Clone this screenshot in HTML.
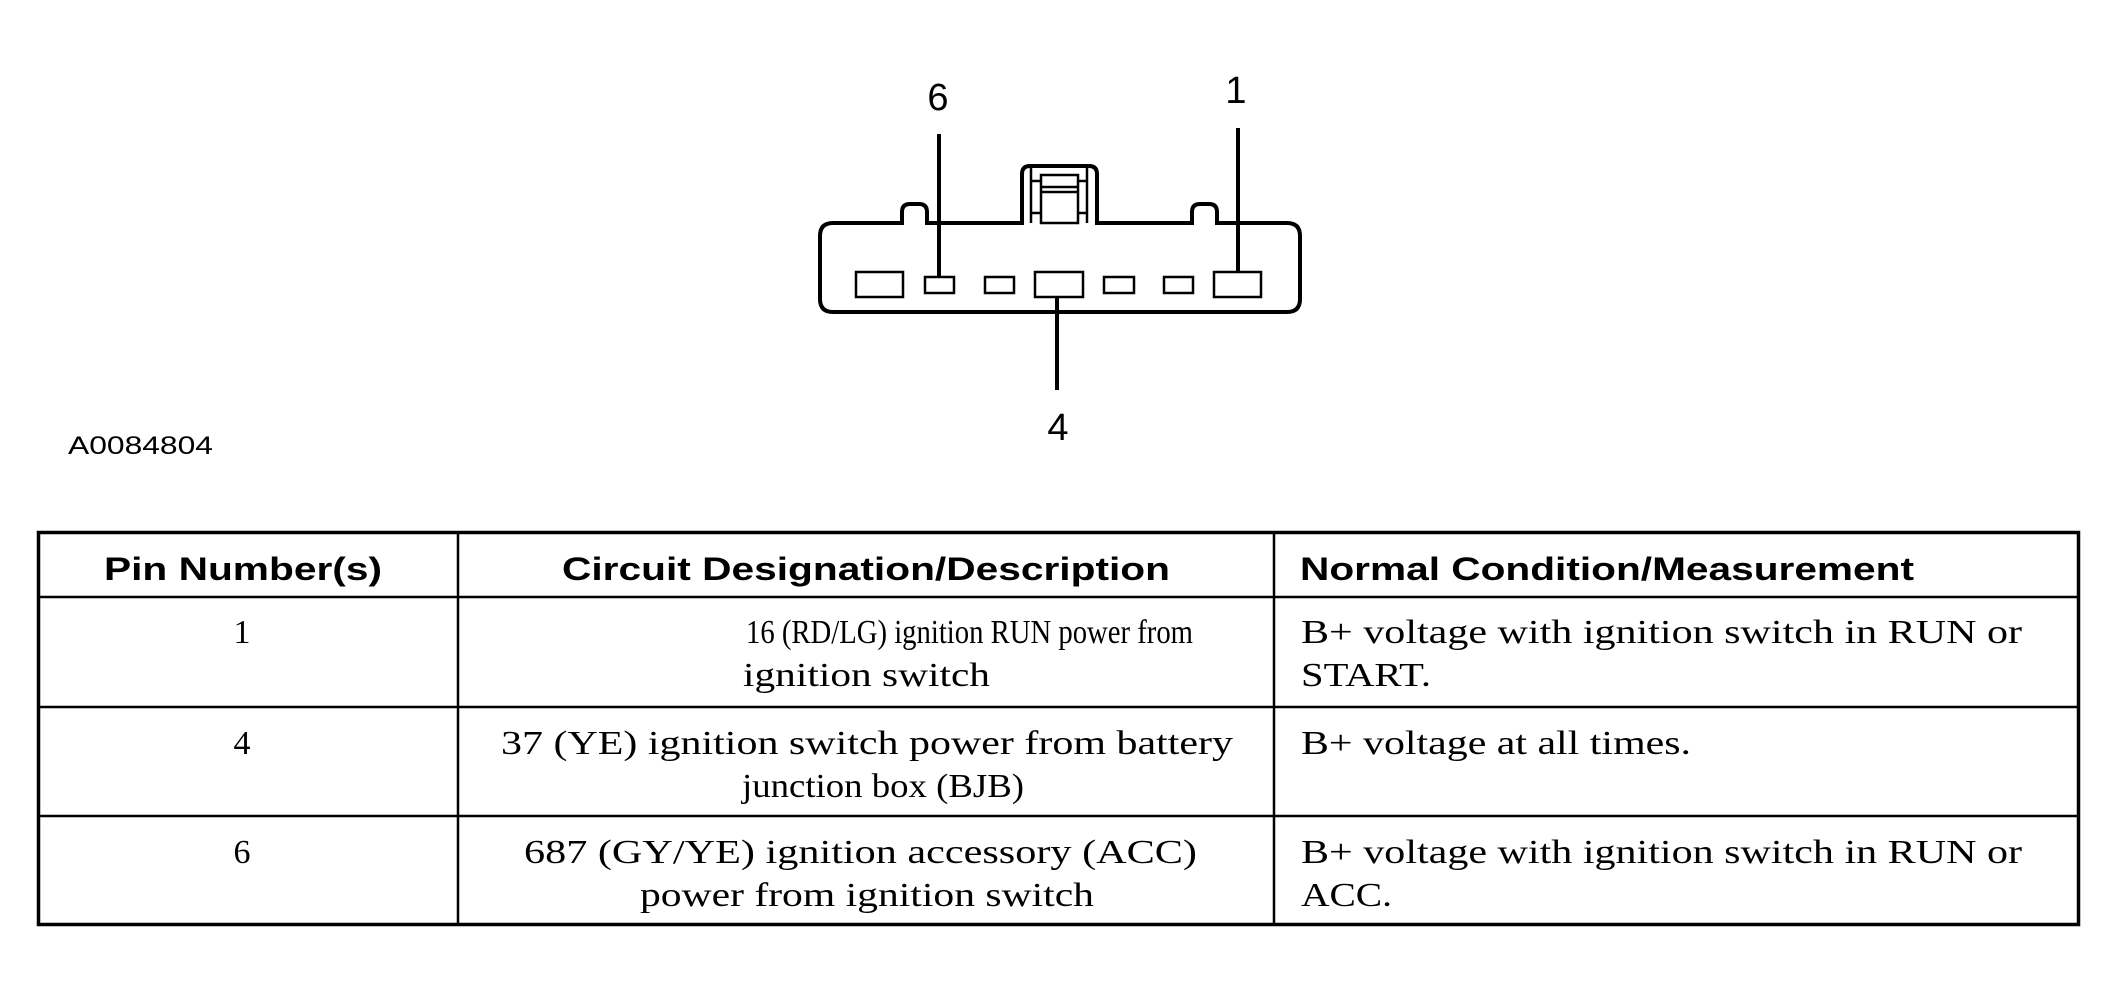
<!DOCTYPE html>
<html><head><meta charset="utf-8"><style>html,body{margin:0;padding:0;background:#fff;}svg{display:block}</style></head>
<body>
<svg width="2118" height="1003" viewBox="0 0 2118 1003" xmlns="http://www.w3.org/2000/svg">
<g fill="none" stroke="#000" stroke-width="4">
<path d="M833,223 L902,223 L902,212 Q902,204 910,204 L919,204 Q927,204 927,212 L927,223 L1022,223 L1022,174 Q1022,166 1030,166 L1089,166 Q1097,166 1097,174 L1097,223 L1192,223 L1192,212 Q1192,204 1200,204 L1209,204 Q1217,204 1217,212 L1217,223 L1287,223 Q1300,223 1300,236 L1300,299 Q1300,312 1287,312 L833,312 Q820,312 820,299 L820,236 Q820,223 833,223 Z"/>
</g>
<g fill="none" stroke="#000" stroke-width="2.5">
<line x1="1031" y1="168" x2="1031" y2="223"/><line x1="1087" y1="168" x2="1087" y2="223"/>
<rect x="1041" y="175" width="37" height="48"/>
<line x1="1041" y1="187" x2="1078" y2="187"/><line x1="1041" y1="192" x2="1078" y2="192"/>
<line x1="1031" y1="181" x2="1041" y2="181"/><line x1="1078" y1="181" x2="1087" y2="181"/>
<line x1="1031" y1="213" x2="1041" y2="213"/><line x1="1078" y1="213" x2="1087" y2="213"/>
<rect x="856" y="272" width="47" height="25"/>
<rect x="925" y="277" width="29" height="16"/>
<rect x="985" y="277" width="29" height="16"/>
<rect x="1035" y="272" width="48" height="25"/>
<rect x="1104" y="277" width="30" height="16"/>
<rect x="1164" y="277" width="29" height="16"/>
<rect x="1214" y="272" width="47" height="25"/>
</g>
<g stroke="#000" stroke-width="4">
<line x1="939" y1="134" x2="939" y2="277"/>
<line x1="1238" y1="128" x2="1238" y2="272"/>
<line x1="1057" y1="297" x2="1057" y2="390"/>
</g>
<g font-family="Liberation Sans, Arial, sans-serif" font-size="38" text-anchor="middle" fill="#000">
<text x="938" y="110">6</text><text x="1236" y="103">1</text><text x="1058" y="440">4</text>
</g>
<text x="68" y="454" font-family="Liberation Sans, Arial, sans-serif" font-size="25" textLength="145" lengthAdjust="spacingAndGlyphs">A0084804</text>
<g stroke="#000" stroke-width="2.5">
<line x1="38" y1="597" x2="2079" y2="597"/>
<line x1="38" y1="707" x2="2079" y2="707"/>
<line x1="38" y1="816" x2="2079" y2="816"/>
<line x1="458" y1="532" x2="458" y2="925"/>
<line x1="1274" y1="532" x2="1274" y2="925"/>
</g>
<rect x="38.5" y="532.5" width="2040" height="392" fill="none" stroke="#000" stroke-width="3.5"/>
<g font-family="Liberation Sans, Arial, sans-serif" font-weight="bold" font-size="32" fill="#000" lengthAdjust="spacingAndGlyphs">
<text x="104" y="580" textLength="278" lengthAdjust="spacingAndGlyphs">Pin Number(s)</text>
<text x="562" y="580" textLength="608" lengthAdjust="spacingAndGlyphs">Circuit Designation/Description</text>
<text x="1300" y="580" textLength="614" lengthAdjust="spacingAndGlyphs">Normal Condition/Measurement</text>
</g>
<g font-family="Liberation Serif, Times New Roman, serif" font-size="34" fill="#000">
<text x="242" y="643" text-anchor="middle">1</text>
<text x="242" y="754" text-anchor="middle">4</text>
<text x="242" y="863" text-anchor="middle">6</text>
<text x="746" y="643" textLength="447" lengthAdjust="spacingAndGlyphs">16 (RD/LG) ignition RUN power from</text>
<text x="743" y="686" textLength="247" lengthAdjust="spacingAndGlyphs">ignition switch</text>
<text x="501" y="754" textLength="732" lengthAdjust="spacingAndGlyphs">37 (YE) ignition switch power from battery</text>
<text x="742" y="797" textLength="282" lengthAdjust="spacingAndGlyphs">junction box (BJB)</text>
<text x="524" y="863" textLength="673" lengthAdjust="spacingAndGlyphs">687 (GY/YE) ignition accessory (ACC)</text>
<text x="640" y="906" textLength="454" lengthAdjust="spacingAndGlyphs">power from ignition switch</text>
<text x="1301" y="643" textLength="721" lengthAdjust="spacingAndGlyphs">B+ voltage with ignition switch in RUN or</text>
<text x="1301" y="686" textLength="130" lengthAdjust="spacingAndGlyphs">START.</text>
<text x="1301" y="754" textLength="390" lengthAdjust="spacingAndGlyphs">B+ voltage at all times.</text>
<text x="1301" y="863" textLength="721" lengthAdjust="spacingAndGlyphs">B+ voltage with ignition switch in RUN or</text>
<text x="1301" y="906" textLength="91" lengthAdjust="spacingAndGlyphs">ACC.</text>
</g>
</svg>
</body></html>
